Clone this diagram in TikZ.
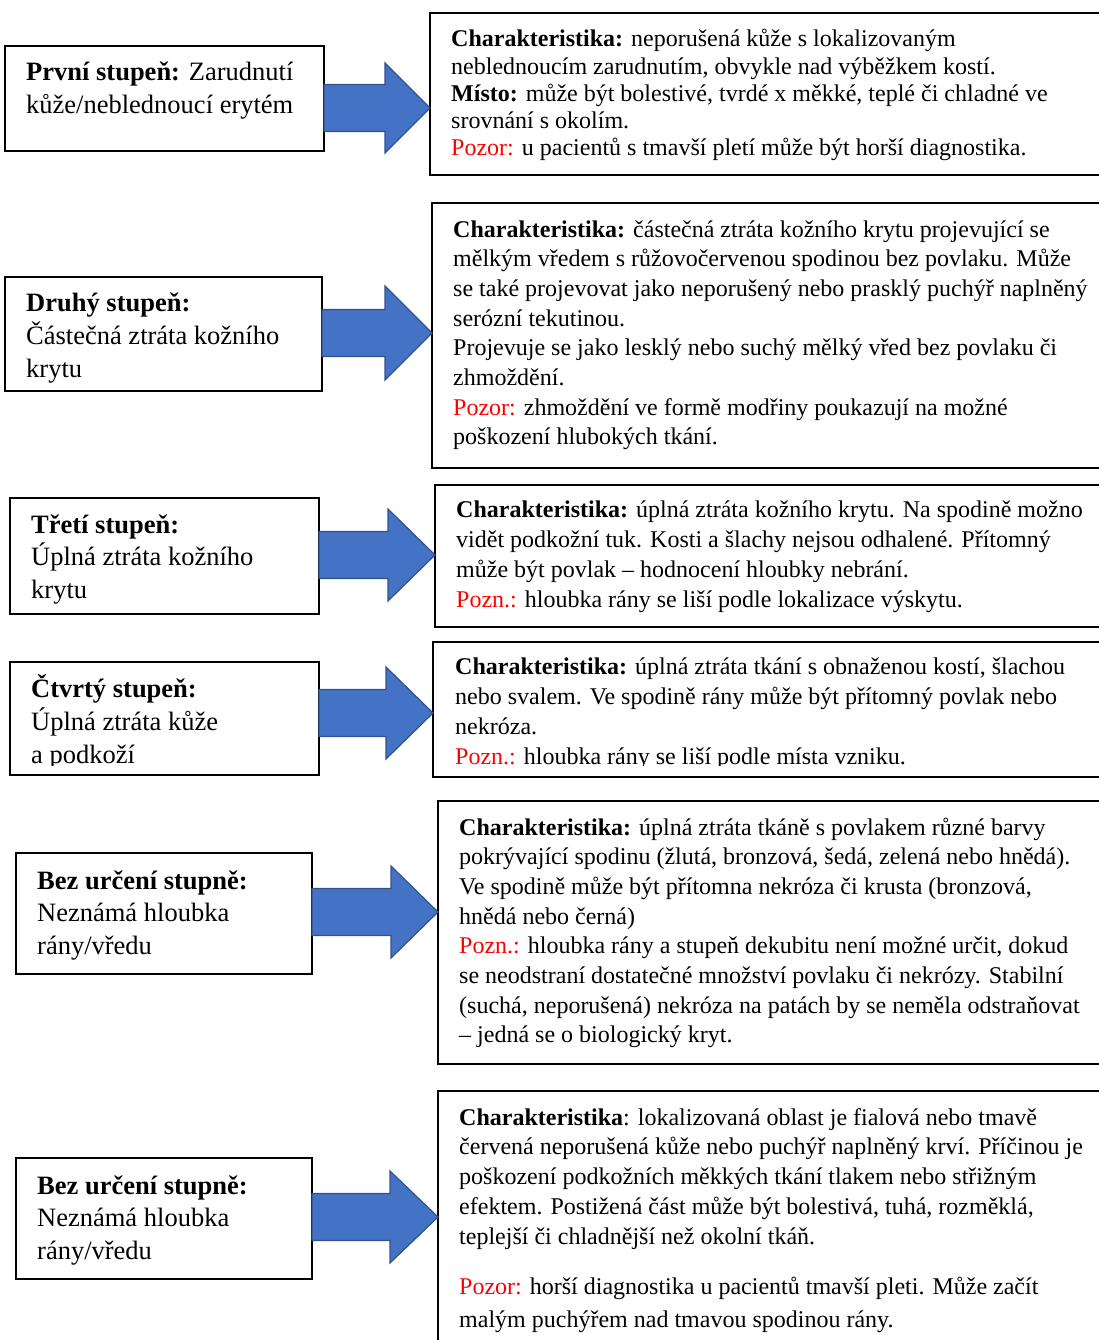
\documentclass[tikz,border=0pt]{standalone}
\usepackage{fontspec}
\setmainfont{Liberation Serif}
\usetikzlibrary{calc}
\definecolor{arrowblue}{HTML}{4472C4}
\definecolor{arrowedge}{HTML}{2F528F}
\definecolor{warnred}{HTML}{FF0000}
\tikzset{
  box/.style={draw=black, line width=2pt, fill=white, inner sep=0pt, outer sep=0pt, anchor=north west},
  ltext/.style={inner sep=0pt, align=left, anchor=base west, font=\fontsize{26.5}{33}\selectfont},
  rtext/.style={inner sep=0pt, align=left, anchor=base west, font=\fontsize{24}{29.7}\selectfont},
  blockarrow/.style={fill=arrowblue, draw=arrowedge, line width=1.2pt, line join=miter}
}
\newcommand{\warn}[1]{\textcolor{warnred}{#1}}
% #1 left box, #2 tip coordinate, #3 head length, #4 shaft half height, #5 head half height
\newcommand{\bigarrow}[5]{%
  \draw[blockarrow] let \p1=(#1.east), \p2=(#2) in
    (\x1,\y2+#4pt) -- (\x2-#3pt,\y2+#4pt) -- (\x2-#3pt,\y2+#5pt) -- (\x2,\y2)
    -- (\x2-#3pt,\y2-#5pt) -- (\x2-#3pt,\y2-#4pt) -- (\x1,\y2-#4pt) -- cycle;}
\begin{document}
\begin{tikzpicture}[x=1pt,y=-1pt]
\useasboundingbox (0,0) rectangle (1099,1340);
\clip (0,0) rectangle (1099,1340);

% text nodes are anchored at the baseline of their LAST line
% ---------- row 1
\node[box, minimum width=319pt, minimum height=105pt] (l1) at (5,46) {};
\node[box, minimum width=700pt, minimum height=162pt] (r1) at (430,13) {};
\node[ltext] (lt1) at (26,114) {\textbf{První stupeň:} Zarudnutí\\kůže/neblednoucí erytém};
\node[rtext, font=\fontsize{24}{27.2}\selectfont] (rt1) at (451,155.8) {%
\textbf{Charakteristika:} neporušená kůže s lokalizovaným\\
neblednoucím zarudnutím, obvykle nad výběžkem kostí.\\
\textbf{Místo:} může být bolestivé, tvrdé x měkké, teplé či chladné ve\\
srovnání s okolím.\\
\warn{Pozor:} u pacientů s tmavší pletí může být horší diagnostika.};
\coordinate (a1) at (430,108);
\bigarrow{l1}{a1}{45}{23.5}{45}

% ---------- row 2
\node[box, minimum width=317pt, minimum height=114pt] (l2) at (5,277) {};
\node[box, minimum width=700pt, minimum height=265pt] (r2) at (432,203) {};
\node[ltext] (lt2) at (26,377) {\textbf{Druhý stupeň:}\\Částečná ztráta kožního\\krytu};
\node[rtext] (rt2) at (453,444.9) {%
\textbf{Charakteristika:} částečná ztráta kožního krytu projevující se\\
mělkým vředem s růžovočervenou spodinou bez povlaku. Může\\
se také projevovat jako neporušený nebo prasklý puchýř naplněný\\
serózní tekutinou.\\
Projevuje se jako lesklý nebo suchý mělký vřed bez povlaku či\\
zhmoždění.\\
\warn{Pozor:} zhmoždění ve formě modřiny poukazují na možné\\
poškození hlubokých tkání.};
\coordinate (a2) at (432,333);
\bigarrow{l2}{a2}{47}{23.5}{47}

% ---------- row 3
\node[box, minimum width=309pt, minimum height=116pt] (l3) at (10,498) {};
\node[box, minimum width=700pt, minimum height=142pt] (r3) at (435,485) {};
\node[ltext, font=\fontsize{26.5}{32.5}\selectfont] (lt3) at (31,598) {\textbf{Třetí stupeň:}\\Úplná ztráta kožního\\krytu};
\node[rtext, font=\fontsize{24}{30}\selectfont] (rt3) at (456,607) {%
\textbf{Charakteristika:} úplná ztráta kožního krytu. Na spodině možno\\
vidět podkožní tuk. Kosti a šlachy nejsou odhalené. Přítomný\\
může být povlak – hodnocení hloubky nebrání.\\
\warn{Pozn.:} hloubka rány se liší podle lokalizace výskytu.};
\coordinate (a3) at (435,555);
\bigarrow{l3}{a3}{47}{23.5}{46}

% ---------- row 4
\node[box, minimum width=309pt, minimum height=113pt] (l4) at (10,662) {};
\node[box, minimum width=700pt, minimum height=135pt] (r4) at (433,642) {};
\begin{scope}
  \clip (l4.north west) rectangle ($(l4.south east)+(0,-10)$);
  \node[ltext] (lt4) at (31,763) {\textbf{Čtvrtý stupeň:}\\Úplná ztráta kůže\\a podkoží};
\end{scope}
\begin{scope}
  \clip (r4.north west) rectangle ($(r4.south east)+(0,-12)$);
  \node[rtext, font=\fontsize{24}{30}\selectfont] (rt4) at (455,764) {%
\textbf{Charakteristika:} úplná ztráta tkání s obnaženou kostí, šlachou\\
nebo svalem. Ve spodině rány může být přítomný povlak nebo\\
nekróza.\\
\warn{Pozn.:} hloubka rány se liší podle místa vzniku.};
\end{scope}
\coordinate (a4) at (433,713);
\bigarrow{l4}{a4}{47}{23.5}{46}

% ---------- row 5
\node[box, minimum width=296pt, minimum height=121pt] (l5) at (16,853) {};
\node[box, minimum width=700pt, minimum height=263pt] (r5) at (438,801) {};
\node[ltext, font=\fontsize{26.5}{32.5}\selectfont] (lt5) at (37,954) {\textbf{Bez určení stupně:}\\Neznámá hloubka\\rány/vředu};
\node[rtext] (rt5) at (459,1042.9) {%
\textbf{Charakteristika:} úplná ztráta tkáně s povlakem různé barvy\\
pokrývající spodinu (žlutá, bronzová, šedá, zelená nebo hnědá).\\
Ve spodině může být přítomna nekróza či krusta (bronzová,\\
hnědá nebo černá)\\
\warn{Pozn.:} hloubka rány a stupeň dekubitu není možné určit, dokud\\
se neodstraní dostatečné množství povlaku či nekrózy. Stabilní\\
(suchá, neporušená) nekróza na patách by se neměla odstraňovat\\
– jedná se o biologický kryt.};
\coordinate (a5) at (438,912);
\bigarrow{l5}{a5}{47}{23.5}{46}

% ---------- row 6
\node[box, minimum width=296pt, minimum height=121pt] (l6) at (16,1158) {};
\node[box, minimum width=700pt, minimum height=280pt] (r6) at (438,1091) {};
\node[ltext, font=\fontsize{26.5}{32.5}\selectfont] (lt6) at (37,1259) {\textbf{Bez určení stupně:}\\Neznámá hloubka\\rány/vředu};
\node[rtext, font=\fontsize{24}{29.75}\selectfont] (rt6) at (459,1244) {%
\textbf{Charakteristika}: lokalizovaná oblast je fialová nebo tmavě\\
červená neporušená kůže nebo puchýř naplněný krví. Příčinou je\\
poškození podkožních měkkých tkání tlakem nebo střižným\\
efektem. Postižená část může být bolestivá, tuhá, rozměklá,\\
teplejší či chladnější než okolní tkáň.};
\node[rtext, font=\fontsize{24}{33}\selectfont] (rt6b) at (459,1327) {%
\warn{Pozor:} horší diagnostika u pacientů tmavší pleti. Může začít\\
malým puchýřem nad tmavou spodinou rány.};
\coordinate (a6) at (438,1217);
\bigarrow{l6}{a6}{48}{23.5}{46}
\end{tikzpicture}
\end{document}
